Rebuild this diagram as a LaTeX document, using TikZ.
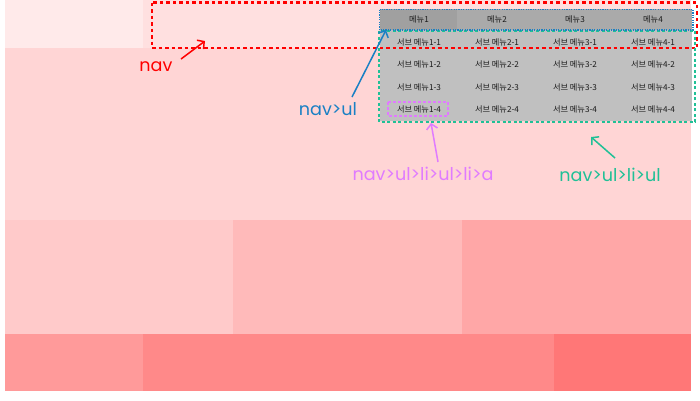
\documentclass[tikz,border=0pt]{standalone}
\usepackage{fontspec}
\setmainfont{Poppins}
\newfontfamily\kr{Noto Sans CJK KR}
\usetikzlibrary{arrows.meta}
\definecolor{bgTL}{HTML}{FFEAEA}
\definecolor{bgTR}{HTML}{FFE0E0}
\definecolor{bgMain}{HTML}{FFD5D5}
\definecolor{bgM1}{HTML}{FFCACA}
\definecolor{bgM2}{HTML}{FFBABA}
\definecolor{bgM3}{HTML}{FFA7A7}
\definecolor{bgB1}{HTML}{FF9A9A}
\definecolor{bgB2}{HTML}{FF8989}
\definecolor{bgB3}{HTML}{FF7777}
\definecolor{menuTop}{HTML}{AAAAAA}
\definecolor{menuAct}{HTML}{A0A0A0}
\definecolor{menuSub}{HTML}{C0C0C0}
\definecolor{cRed}{HTML}{FF0000}
\definecolor{cBlue}{HTML}{1A80C4}
\definecolor{cTeal}{HTML}{20C096}
\definecolor{cViolet}{HTML}{E07BFF}
\tikzset{
  menutext/.style={font=\kr\fontsize{8.2}{9}\selectfont, text=black!90, inner sep=0pt},
  lbl/.style={font=\fontsize{17.6}{20}\selectfont, inner sep=0pt, anchor=base},
  arr/.style={line width=1.5pt, -{Straight Barb[length=5pt,width=11pt]}},
}
\begin{document}
\begin{tikzpicture}[x=1pt,y=-1pt]
\useasboundingbox (0,0) rectangle (700,400);
\fill[white] (0,0) rectangle (700,400);
% backgrounds
\fill[bgTL] (5,0) rectangle (143,48);
\fill[bgTR] (143,0) rectangle (691,48);
\fill[bgMain] (5,48) rectangle (691,220);
\fill[bgM1] (5,220) rectangle (233,334);
\fill[bgM2] (233,220) rectangle (462,334);
\fill[bgM3] (462,220) rectangle (691,334);
\fill[bgB1] (5,334) rectangle (143,391);
\fill[bgB2] (143,334) rectangle (554,391);
\fill[bgB3] (554,334) rectangle (691,391);
% menu
\fill[menuSub] (380,30) rectangle (692,121);
\fill[menuTop] (380,9) rectangle (692,30);
\fill[menuAct] (380,9) rectangle (457,30);
\foreach \i/\x in {1/419,2/497,3/575,4/653}{
  \node[menutext] (m\i) at (\x,19.5) {메뉴\i};
  \foreach \j/\y in {1/42,2/64.5,3/87,4/109.5}{
    \node[menutext] (s\i\j) at (\x,\y) {서브 메뉴\i-\j};
  }
}
% highlight boxes
\draw[cRed, line width=2.5pt, dash pattern=on 3.5pt off 3pt] (152,2.5) rectangle (697,48);
\draw[cTeal, line width=1.5pt, dash pattern=on 3pt off 2.5pt] (379,31) rectangle (695,122);
\draw[cBlue, line width=1.5pt, dash pattern=on 1.2pt off 1.2pt] (379.5,9.5) rectangle (693,30);
\draw[cViolet, line width=1.5pt, dash pattern=on 3pt off 2pt] (388,102) rectangle (448,116);
% labels
\node[lbl, text=cRed] (lnav) at (156,71) {nav};
\node[lbl, text=cBlue] (lul) at (328,115) {nav>ul};
\node[lbl, text=cViolet] (la) at (423,180) {nav>ul>li>ul>li>a};
\node[lbl, text=cTeal] (lsub) at (610,181) {nav>ul>li>ul};
% arrow ends
\coordinate (navT) at (181,59);
\coordinate (navH) at (205,41);
\coordinate (ulT) at (352,97);
\coordinate (ulH) at (386,30);
\coordinate (aT) at (438,162);
\coordinate (aH) at (431,123);
\coordinate (subT) at (615,158);
\coordinate (subH) at (591,137);
\draw[arr, cRed] (navT) -- (navH);
\draw[arr, cBlue] (ulT) -- (ulH);
\draw[arr, cViolet] (aT) -- (aH);
\draw[arr, cTeal] (subT) -- (subH);
\end{tikzpicture}
\end{document}
